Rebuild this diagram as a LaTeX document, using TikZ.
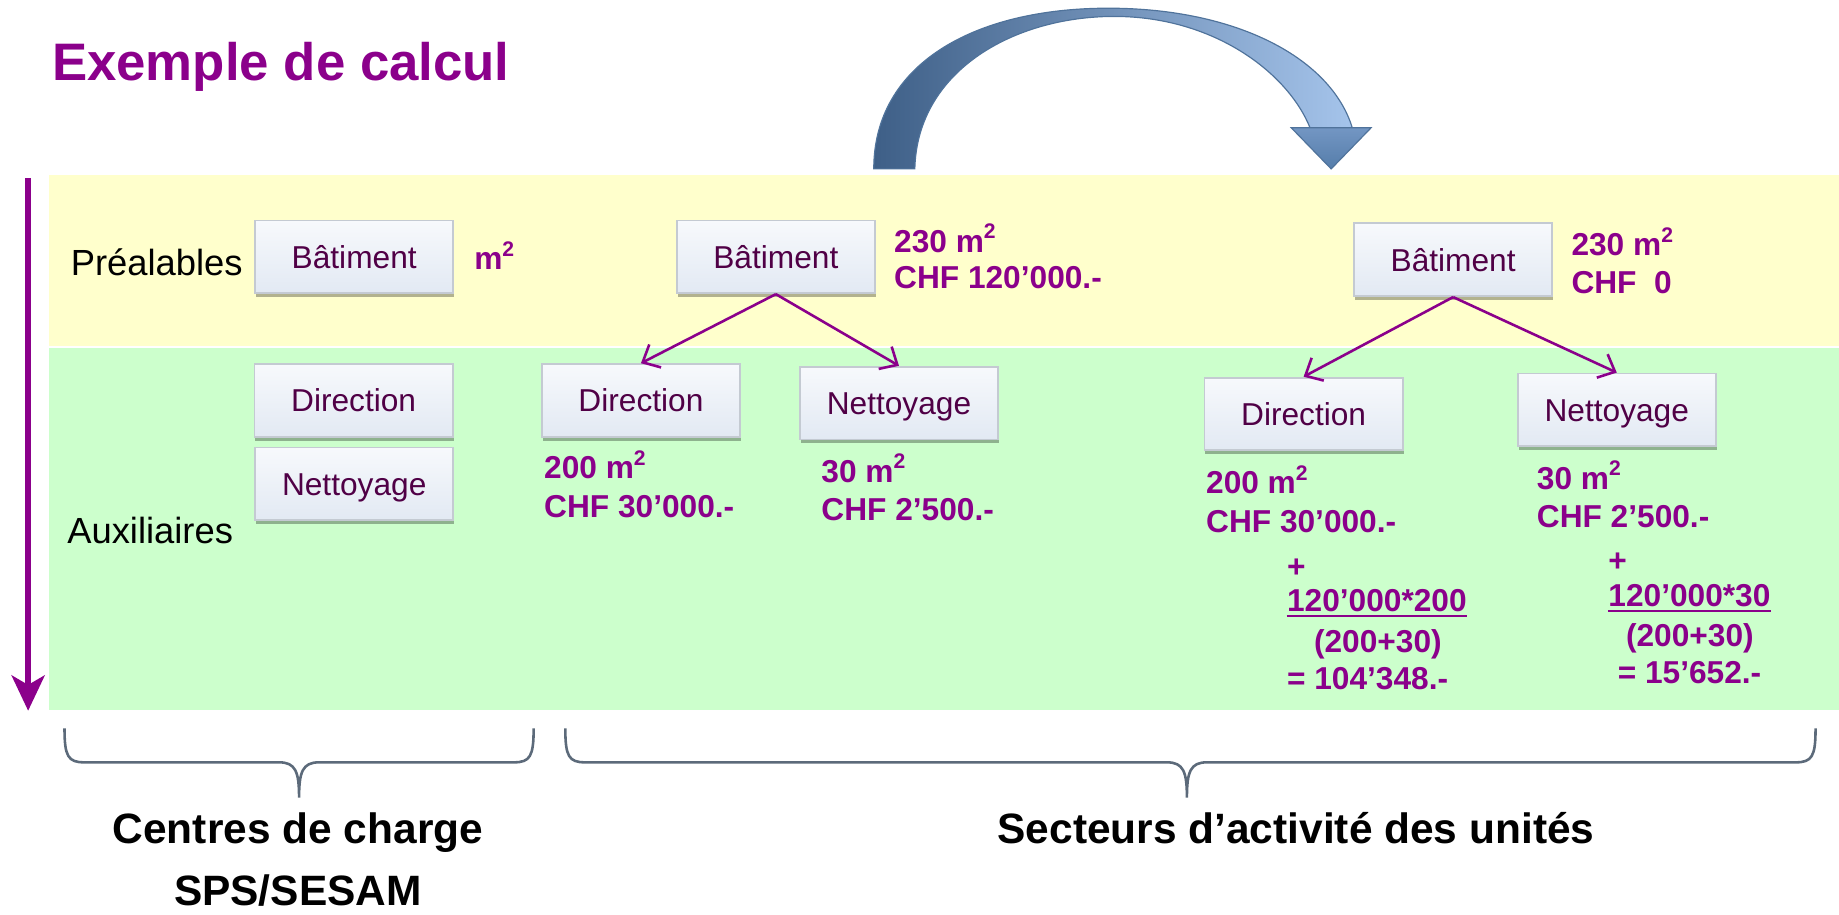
\documentclass[tikz,border=0pt]{standalone}
\usepackage{fontspec}
\setmainfont{Liberation Sans}
\usetikzlibrary{arrows.meta,shadows}
\definecolor{mypurple}{RGB}{139,0,139}
\definecolor{boxtext}{RGB}{80,0,70}
\definecolor{yellowband}{RGB}{255,255,204}
\definecolor{greenband}{RGB}{204,255,204}
\definecolor{boxtop}{RGB}{247,249,252}
\definecolor{boxbot}{RGB}{226,233,243}
\definecolor{boxborder}{RGB}{196,202,210}
\definecolor{bracecol}{RGB}{92,106,122}
\definecolor{arrowdark}{RGB}{62,95,135}
\definecolor{arrowlight}{RGB}{165,196,235}
\definecolor{arrowedge}{RGB}{80,115,155}
\definecolor{headtop}{RGB}{115,150,195}
\definecolor{headbot}{RGB}{85,125,170}
\newcommand\sqr{\raisebox{0.42em}{\fontsize{9}{9}\selectfont 2}}
\tikzset{
  boxnode/.style={rectangle, draw=boxborder, line width=0.8pt, top color=boxtop, bottom color=boxbot,
    minimum width=84.5pt, minimum height=31pt, inner sep=0pt, text=boxtext,
    font=\fontsize{13.5}{16}\selectfont, text height=9.7pt, text depth=0pt,
    drop shadow={shadow xshift=0.4pt, shadow yshift=-1.6pt, opacity=0.3, fill=black}},
  val/.style={anchor=base west, inner sep=0pt, text=mypurple, font=\fontsize{13.5}{16}\bfseries},
  lbl/.style={anchor=base west, inner sep=0pt, text=black, font=\fontsize{15.5}{18}\selectfont},
  bottomlbl/.style={anchor=base, inner sep=0pt, text=black, font=\fontsize{18.1}{22}\bfseries},
  conn/.style={draw=mypurple, line width=1.1pt, -{Straight Barb[length=6pt,width=11pt]}},
  bracepath/.style={draw=bracecol, line width=1.1pt},
}
\begin{document}
\begin{tikzpicture}[x=0.5pt,y=-0.5pt]
\useasboundingbox (0,0) rectangle (1568,780);
% bands
\fill[yellowband] (42,149) rectangle (1568,295);
\fill[greenband] (42,297) rectangle (1568,605);
% title
\node[anchor=base west, inner sep=0pt, text=mypurple, font=\fontsize{22.5}{27}\bfseries] (title) at (44,69) {Exemple de calcul};
% vertical arrow
\coordinate (vtop) at (24,152);
\coordinate (vbot) at (24,606);
\draw[draw=mypurple, line width=2.6pt, -{Stealth[length=15pt,width=14pt,inset=4pt]}] (vtop) -- (vbot);
% row labels
\node[lbl] (pre) at (60,235) {Préalables};
\node[lbl] (aux) at (57,463) {Auxiliaires};
% blue curved arrow
\path[left color=arrowdark, right color=arrowlight, draw=arrowedge, line width=0.5pt]
  (745,144) .. controls (745,55) and (830,7) .. (945,7)
  .. controls (1055,7) and (1135,50) .. (1153,109)
  -- (1117,109) .. controls (1098,62) and (1035,14) .. (950,14)
  .. controls (865,14) and (782,60) .. (780,144) -- cycle;
\path[top color=headtop, bottom color=headbot, draw=arrowedge, line width=0.5pt]
  (1101,109) -- (1169,109) -- (1135,144) -- cycle;
% boxes
\node[boxnode] (bat1) at (302,219) {Bâtiment};
\node[boxnode] (dir1) at (301.5,341.5) {Direction};
\node[boxnode] (net1) at (302,412.6) {Nettoyage};
\node[boxnode] (bat2) at (661.5,219) {Bâtiment};
\node[boxnode] (dir2) at (546.5,341.5) {Direction};
\node[boxnode] (net2) at (766.5,343.7) {Nettoyage};
\node[boxnode] (bat3) at (1239,221.5) {Bâtiment};
\node[boxnode] (dir3) at (1111.5,353) {Direction};
\node[boxnode] (net3) at (1378.5,349.5) {Nettoyage};
% connectors
\draw[conn] (bat2.south) -- (dir2.north);
\draw[conn] (bat2.south) -- (net2.north);
\draw[conn] (bat3.south) -- (dir3.north);
\draw[conn] (bat3.south) -- (net3.north);
% values
\node[val] (m1) at (404,230) {m\sqr};
\node[val] (a1) at (762,215) {230 m\sqr};
\node[val] (a2) at (762,246) {CHF 120’000.-};
\node[val] (b1) at (463.6,408) {200 m\sqr};
\node[val] (b2) at (463.6,441) {CHF 30’000.-};
\node[val] (c1) at (700,411) {30 m\sqr};
\node[val] (c2) at (700,444) {CHF 2’500.-};
\node[val] (d1) at (1339.5,218) {230 m\sqr};
\node[val] (d2) at (1339.5,250) {CHF~~0};
\node[val] (e1) at (1028,421) {200 m\sqr};
\node[val] (e2) at (1028,454) {CHF 30’000.-};
\node[val] (e3) at (1097,492) {+};
\node[val] (e4) at (1097,521.5) {120’000*200};
\node[val] (e5) at (1120,556) {(200+30)};
\node[val] (e6) at (1097,587.5) {= 104’348.-};
\node[val] (f1) at (1310,417) {30 m\sqr};
\node[val] (f2) at (1310,450) {CHF 2’500.-};
\node[val] (f3) at (1371,487) {+};
\node[val] (f4) at (1371,517) {120’000*30};
\node[val] (f5) at (1386,551.5) {(200+30)};
\node[val] (f6) at (1379,583) {= 15’652.-};
\draw[mypurple, line width=1pt] ([yshift=-2pt]e4.base west) -- ([yshift=-2pt]e4.base east);
\draw[mypurple, line width=1pt] ([yshift=-2pt]f4.base west) -- ([yshift=-2pt]f4.base east);
% braces
\draw[bracepath] (55,621) .. controls (55,645) and (58,650) .. (72,650) -- (238,650)
  .. controls (252,650) and (255,658) .. (255,680)
  .. controls (255,658) and (258,650) .. (272,650) -- (438,650)
  .. controls (452,650) and (455,645) .. (455,621);
\draw[bracepath] (482,621) .. controls (482,645) and (485,650) .. (499,650) -- (995,650)
  .. controls (1009,650) and (1012,658) .. (1012,680)
  .. controls (1012,658) and (1015,650) .. (1029,650) -- (1531,650)
  .. controls (1545,650) and (1548,645) .. (1548,621);
% bottom labels
\node[bottomlbl] (cc) at (254,719) {Centres de charge};
\node[bottomlbl] (sps) at (254,772) {SPS/SESAM};
\node[bottomlbl] (sect) at (1105,719) {Secteurs d’activité des unités};
\end{tikzpicture}
\end{document}
